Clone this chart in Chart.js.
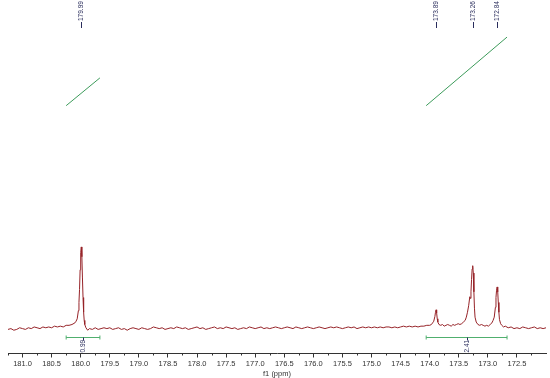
<!DOCTYPE html>
<html>
<head>
<meta charset="utf-8">
<script src="https://cdn.jsdelivr.net/npm/chart.js@4.4.1/dist/chart.umd.min.js"></script>
<style>
html, body { margin: 0; padding: 0; background: #fff; }
#wrap { width: 550px; height: 378px; position: relative; }
</style>
</head>
<body>
<div id="wrap"><canvas id="nmr"></canvas></div>
<script>
// 13C spectrum, ppm vs intensity (tallest peak = 100)
const leftRegion = [
    [181.25, -1], [181.20, 0], [181.15, -2], [181.10, -1], [181.05, 1], [181.00, 0],
    [180.95, -1], [180.90, 1], [180.85, 0], [180.80, 2], [180.75, 1], [180.70, 0],
    [180.65, 2], [180.60, 1], [180.55, 2], [180.50, 1], [180.45, 3], [180.40, 2],
    [180.35, 3], [180.30, 2], [180.25, 4], [180.20, 4], [180.15, 5], [180.10, 7],
    [180.08, 9], [180.06, 12], [180.04, 22], [180.03, 32], [180.02, 48], [180.01, 72],
    [180.00, 93], [179.99, 100], [179.98, 88], [179.97, 62], [179.96, 38], [179.95, 20],
    [179.94, 10], [179.93, 5], [179.91, 1], [179.88, -2], [179.85, 0], [179.80, -1],
    [179.75, 1], [179.70, -1], [179.65, 0], [179.60, 1]
];

const middleRegion = [
    [179.55, 0], [179.50, 1], [179.45, -1], [179.40, 0], [179.35, 1], [179.30, -1],
    [179.25, 0], [179.20, -2], [179.15, 0], [179.10, 1], [179.05, 0], [179.00, -1],
    [178.95, 1], [178.90, 0], [178.85, -1], [178.80, 0], [178.75, 2], [178.70, 1],
    [178.65, 0], [178.60, 1], [178.55, -1], [178.50, 0], [178.45, 1], [178.40, 0],
    [178.35, 2], [178.30, 1], [178.25, 0], [178.20, 1], [178.15, -1], [178.10, 0],
    [178.05, 1], [178.00, 2], [177.95, 0], [177.90, 1], [177.85, -1], [177.80, 0],
    [177.75, 1], [177.70, 2], [177.65, 0], [177.60, 1], [177.55, 0], [177.50, 2],
    [177.45, 1], [177.40, 0], [177.35, 1], [177.30, -1], [177.25, 0], [177.20, 1],
    [177.15, 0], [177.10, 2], [177.05, 1], [177.00, 0], [176.95, 1], [176.90, 2],
    [176.85, 0], [176.80, 1], [176.75, 0], [176.70, 1], [176.65, 2], [176.60, 1],
    [176.55, 0], [176.50, 1], [176.45, 2], [176.40, 1], [176.35, 0], [176.30, 2],
    [176.25, 1], [176.20, 0], [176.15, 1], [176.10, 2], [176.05, 1], [176.00, 0],
    [175.95, 1], [175.90, 2], [175.85, 1], [175.80, 0], [175.75, 1], [175.70, 2],
    [175.65, 1], [175.60, 2], [175.55, 1], [175.50, 0], [175.45, 1], [175.40, 2],
    [175.35, 1], [175.30, 2], [175.25, 0], [175.20, 1], [175.15, 2], [175.10, 1],
    [175.05, 2], [175.00, 1], [174.95, 2], [174.90, 1], [174.85, 2], [174.80, 1],
    [174.75, 2], [174.70, 2], [174.65, 1], [174.60, 2], [174.55, 1], [174.50, 2],
    [174.45, 3], [174.40, 2], [174.35, 3], [174.30, 2], [174.25, 3], [174.20, 2],
    [174.15, 3], [174.10, 3]
];

const rightRegion = [
    [174.05, 4], [174.00, 4], [173.97, 5], [173.95, 7], [173.93, 9], [173.91, 15],
    [173.90, 20], [173.89, 23], [173.88, 19], [173.87, 12], [173.86, 8], [173.84, 5],
    [173.81, 4], [173.78, 5], [173.75, 3], [173.72, 4], [173.69, 5], [173.66, 4],
    [173.63, 3], [173.60, 5], [173.57, 4], [173.54, 5], [173.51, 6], [173.48, 5],
    [173.45, 6], [173.42, 8], [173.39, 10], [173.37, 14], [173.35, 20], [173.33, 28],
    [173.31, 39], [173.30, 37], [173.29, 45], [173.28, 60], [173.27, 73], [173.26, 77],
    [173.25, 68], [173.24, 45], [173.23, 25], [173.22, 14], [173.20, 8], [173.17, 5],
    [173.14, 4], [173.11, 5], [173.08, 4], [173.05, 3], [173.02, 4], [172.99, 3],
    [172.96, 5], [172.93, 7], [172.91, 10], [172.89, 14], [172.87, 26], [172.86, 38],
    [172.85, 47], [172.84, 51], [172.83, 45], [172.82, 32], [172.81, 20], [172.80, 11],
    [172.78, 6], [172.76, 4], [172.73, 2], [172.70, 3], [172.65, 1], [172.60, 2],
    [172.55, 0], [172.50, 1], [172.45, 0], [172.40, 2], [172.35, 1], [172.30, 0],
    [172.25, 1], [172.20, 2], [172.15, 0], [172.10, 1], [172.05, 0], [172.00, 1]
];

const peakLabels = [179.99, 173.89, 173.26, 172.84];

// integration regions: from / to ppm, value, integral curve start and end height
const integralFrom = [180.25, 174.06];
const integralTo = [179.67, 172.67];
const integralValues = ['0.99', '2.41'];
const integralStart = [273, 273];
const integralEnd = [307, 357];

const axisTicks = [172.5, 173.0, 173.5, 174.0, 174.5, 175.0, 175.5, 176.0, 176.5,
    177.0, 177.5, 178.0, 178.5, 179.0, 179.5, 180.0, 180.5, 181.0];

const spectrum = leftRegion.concat(middleRegion, rightRegion).map(p => ({ x: p[0], y: p[1] }));

const integralSets = integralFrom.map((from, i) => ({
    data: [{ x: from, y: integralStart[i] }, { x: integralTo[i], y: integralEnd[i] }],
    borderColor: 'rgb(60,155,90)',
    borderWidth: 1,
    pointRadius: 0
}));

const labelColor = '#2a2d5c';
const barColor = 'rgb(80,175,110)';
const fontFamily = '"Liberation Sans", Arial, sans-serif';

const annotations = {
    id: 'annotations',
    afterDatasetsDraw(chart) {
        const c = chart.ctx;
        const xs = chart.scales.x;
        const ys = chart.scales.y;
        const area = chart.chartArea;

        // minor ticks
        c.save();
        c.strokeStyle = '#333';
        c.lineWidth = 1;
        for (let v = 172.25; v <= 181.25; v += 0.5) {
            const px = Math.round(xs.getPixelForValue(v)) + 0.5;
            c.beginPath();
            c.moveTo(px, area.bottom);
            c.lineTo(px, area.bottom + 2);
            c.stroke();
        }
        c.restore();

        // peak labels
        c.save();
        c.strokeStyle = labelColor;
        c.fillStyle = labelColor;
        c.font = '6.5px ' + fontFamily;
        peakLabels.forEach(p => {
            const px = Math.round(xs.getPixelForValue(p)) + 0.5;
            c.beginPath();
            c.moveTo(px, area.top + 22);
            c.lineTo(px, area.top + 28);
            c.stroke();
            c.save();
            c.translate(px, area.top + 21);
            c.rotate(-Math.PI / 2);
            c.textAlign = 'left';
            c.textBaseline = 'middle';
            c.fillText(p.toFixed(2), 0, 0);
            c.restore();
        });
        c.restore();

        // integration bars
        c.save();
        integralFrom.forEach((from, i) => {
            const x1 = xs.getPixelForValue(from);
            const x2 = xs.getPixelForValue(integralTo[i]);
            const yb = Math.round(ys.getPixelForValue(-10.4)) + 0.5;
            const xm = Math.round((x1 + x2) / 2) + 0.5;
            c.strokeStyle = barColor;
            c.lineWidth = 1;
            c.beginPath();
            c.moveTo(x1, yb);
            c.lineTo(x2, yb);
            c.moveTo(x1, yb - 2);
            c.lineTo(x1, yb + 2);
            c.moveTo(x2, yb - 2);
            c.lineTo(x2, yb + 2);
            c.stroke();
            c.strokeStyle = labelColor;
            c.beginPath();
            c.moveTo(xm, yb);
            c.lineTo(xm, yb + 3);
            c.stroke();
            c.save();
            c.fillStyle = labelColor;
            c.font = '6.5px ' + fontFamily;
            c.translate(xm, area.bottom - 1);
            c.rotate(-Math.PI / 2);
            c.textAlign = 'left';
            c.textBaseline = 'middle';
            c.fillText(integralValues[i], 0, 0);
            c.restore();
        });
        c.restore();
    }
};

const ctx = document.getElementById('nmr').getContext('2d');
new Chart(ctx, {
    type: 'line',
    data: {
        datasets: [{
            data: spectrum,
            borderColor: 'rgb(150,35,40)',
            borderWidth: 1,
            pointRadius: 0,
            tension: 0
        }].concat(integralSets)
    },
    options: {
        responsive: true,
        maintainAspectRatio: false,
        animation: false,
        layout: { padding: { left: 8, right: 4, top: 0, bottom: 0 } },
        plugins: {
            legend: { display: false },
            tooltip: { enabled: false }
        },
        scales: {
            x: {
                type: 'linear',
                reverse: true,
                min: 172,
                max: 181.25,
                afterBuildTicks: axis => {
                    axis.ticks = axisTicks.map(v => ({ value: v }));
                },
                ticks: {
                    autoSkip: false,
                    maxRotation: 0,
                    padding: 2,
                    color: '#333',
                    font: { size: 7.5, family: fontFamily },
                    callback: v => v.toFixed(1)
                },
                grid: { drawOnChartArea: false, tickLength: 4, tickColor: '#333' },
                border: { color: '#333', width: 1 },
                title: {
                    display: true,
                    text: 'f1 (ppm)',
                    color: '#333',
                    padding: { top: 0, bottom: 0 },
                    font: { size: 7.5, family: fontFamily, lineHeight: 1 }
                }
            },
            y: {
                display: false,
                min: -30.5,
                max: 402.4
            }
        }
    },
    plugins: [annotations]
});
</script>
</body>
</html>
